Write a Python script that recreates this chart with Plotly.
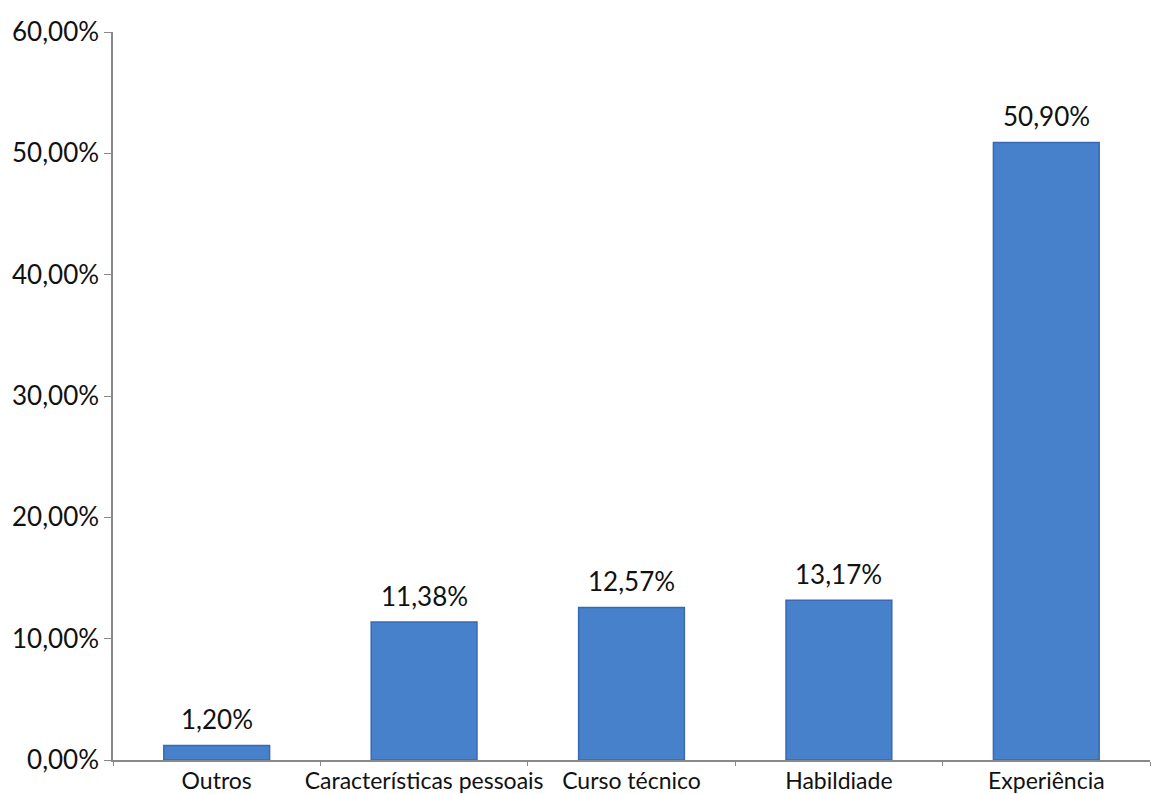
import plotly.graph_objects as go

categories = ["Outros", "Características pessoais", "Curso técnico", "Habildiade", "Experiência"]
shares = [0.0120, 0.1138, 0.1257, 0.1317, 0.5090]
y_ticks = [0, 0.1, 0.2, 0.3, 0.4, 0.5, 0.6]

FONT = "Lato, 'Open Sans', sans-serif"

fig = go.Figure(
    go.Bar(
        x=categories,
        y=shares,
        width=0.51,
        marker=dict(color="#4780CB", line=dict(color="#3A69B2", width=1.5)),
        showlegend=False,
    )
)

# value labels above each bar, lifted slightly off the bar top
for cat, val in zip(categories, shares):
    fig.add_annotation(
        x=cat,
        y=val,
        text=f"{val * 100:.2f}%".replace(".", ","),
        showarrow=False,
        yanchor="bottom",
        yshift=8,
        font=dict(family=FONT, size=26, color="#111111"),
    )

fig.update_layout(
    width=1151,
    height=794,
    margin=dict(l=113, r=1, t=32, b=34),
    paper_bgcolor="white",
    plot_bgcolor="white",
    separators=",.",
    showlegend=False,
    font=dict(family=FONT, size=23, color="#111111"),
)

fig.update_xaxes(
    showline=True,
    linecolor="#888888",
    linewidth=1.5,
    ticks="outside",
    tickson="boundaries",
    ticklen=4,
    tickcolor="#888888",
    tickangle=0,
    tickfont=dict(family=FONT, size=23, color="#111111"),
    showgrid=False,
    automargin=False,
)

fig.update_yaxes(
    range=[0, 0.6],
    tickvals=y_ticks,
    tickformat=".2%",
    showline=True,
    linecolor="#888888",
    linewidth=1.5,
    ticks="outside",
    ticklen=7,
    tickcolor="#888888",
    tickfont=dict(family=FONT, size=26, color="#111111"),
    showgrid=False,
    zeroline=False,
    automargin=False,
)

fig.write_html("out.html")
